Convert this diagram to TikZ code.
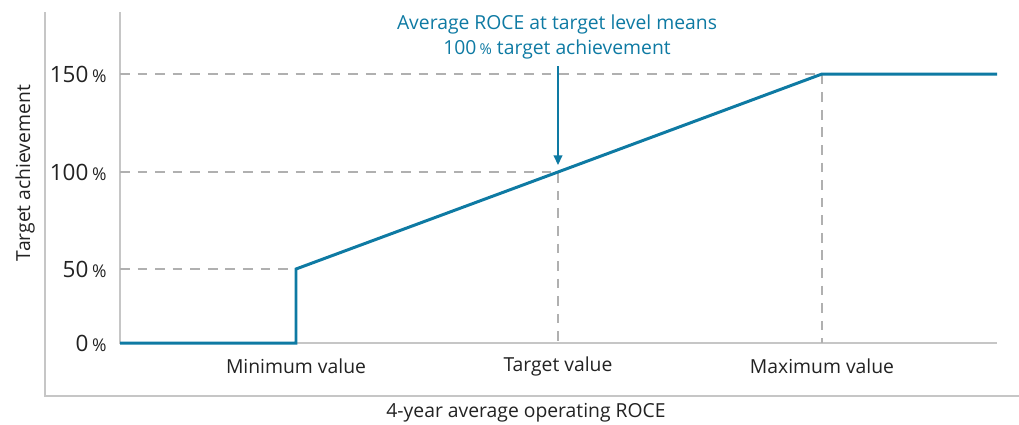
\documentclass[tikz,border=0pt]{standalone}
\usepackage{fontspec}
\setmainfont{Open Sans}
\usetikzlibrary{arrows.meta}

\definecolor{roceblue}{HTML}{0E7AA3}
\definecolor{axisgray}{HTML}{C6C6C6}
\definecolor{guidegray}{HTML}{B0B0B0}
\definecolor{labelgray}{HTML}{222222}

\newcommand{\pct}{\,{\fontsize{8.5}{10}\selectfont\%}}
\newcommand{\tickpct}{\,{\fontsize{10}{12}\selectfont\%}}

\begin{document}
\begin{tikzpicture}[x=0.02cm, y=-0.02cm,
        axisline/.style={draw=axisgray, line width=1.1pt},
        guide/.style={draw=guidegray, line width=0.7pt, dash pattern=on 5.5pt off 4.5pt},
        curve/.style={draw=roceblue, line width=1.7pt, line join=miter},
        pointer/.style={draw=roceblue, line width=0.9pt, -{Triangle[length=5.5pt, width=5pt]}, shorten >=4pt},
        lbl/.style={text=labelgray, font=\fontsize{11}{13}\selectfont, inner sep=0pt},
        ticklbl/.style={lbl, font=\fontsize{12.8}{15}\selectfont, anchor=east}]

    \useasboundingbox (0,0) rectangle (1019,424);

    % points of the curve
    \coordinate (origin) at (120,343);
    \coordinate (minbase) at (296,343);
    \coordinate (minpt) at (296,269);
    \coordinate (tgtpt) at (558,172);
    \coordinate (tgtbase) at (558,343);
    \coordinate (maxpt) at (822,74);
    \coordinate (maxbase) at (822,343);
    \coordinate (endpt) at (997,74);
    \coordinate (xend) at (997,343);
    \coordinate (ytop) at (120,12);

    % outer frame
    \coordinate (frametop) at (45,12);
    \coordinate (framecorner) at (45,396);
    \coordinate (frameend) at (1019,396);
    \draw[axisline] (frametop) -- (framecorner) -- (frameend);

    % axes
    \draw[axisline] (ytop) -- (origin) -- (xend);

    % guides
    \draw[guide] (origin |- minpt) -- (minpt);
    \draw[guide] (origin |- tgtpt) -- (tgtpt) -- (tgtbase);
    \draw[guide] (origin |- maxpt) -- (maxpt) -- (maxbase);

    % curve
    \draw[curve] (origin) -- (minbase) -- (minpt) -- (tgtpt) -- (maxpt) -- (endpt);

    % y labels
    \node[ticklbl] (y0) at (107,343) {0\tickpct};
    \node[ticklbl] (y50) at (107,269) {50\tickpct};
    \node[ticklbl] (y100) at (107,172) {100\tickpct};
    \node[ticklbl] (y150) at (107,74) {150\tickpct};

    % x labels
    \node[lbl] (minlbl) at (296,366) {Minimum value};
    \node[lbl] (tgtlbl) at (558,366) {Target value};
    \node[lbl] (maxlbl) at (822,366) {Maximum value};

    % axis titles
    \node[lbl] (xtitle) at (526,413) {4-year average operating ROCE};
    \node[lbl, rotate=90] (ytitle) at (25,173) {Target achievement};

    % annotation
    \node[lbl, text=roceblue, align=center, font=\fontsize{11}{14.2}\selectfont] (note) at (557,37)
        {Average ROCE at target level means\\100\pct{} target achievement};
    \coordinate (arrowtop) at (558,66);
    \draw[pointer] (arrowtop) -- (tgtpt);
\end{tikzpicture}
\end{document}
